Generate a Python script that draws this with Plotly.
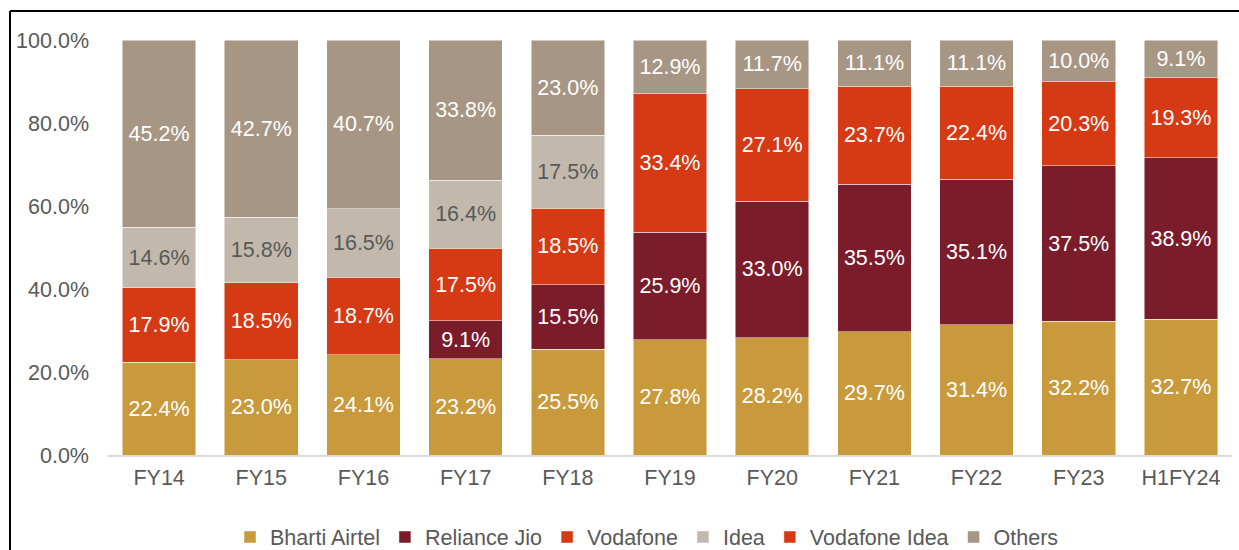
import plotly.graph_objects as go

categories = ["FY14", "FY15", "FY16", "FY17", "FY18", "FY19", "FY20", "FY21", "FY22", "FY23", "H1FY24"]
bharti_airtel = [22.4, 23.0, 24.1, 23.2, 25.5, 27.8, 28.2, 29.7, 31.4, 32.2, 32.7]
reliance_jio = [None, None, None, 9.1, 15.5, 25.9, 33.0, 35.5, 35.1, 37.5, 38.9]
vodafone = [17.9, 18.5, 18.7, 17.5, 18.5, None, None, None, None, None, None]
idea = [14.6, 15.8, 16.5, 16.4, 17.5, None, None, None, None, None, None]
vodafone_idea = [None, None, None, None, None, 33.4, 27.1, 23.7, 22.4, 20.3, 19.3]
others = [45.2, 42.7, 40.7, 33.8, 23.0, 12.9, 11.7, 11.1, 11.1, 10.0, 9.1]
y_ticks = [0, 20, 40, 60, 80, 100]
y_tick_labels = ["0.0%", "20.0%", "40.0%", "60.0%", "80.0%", "100.0%"]

series = [
    ("Bharti Airtel", bharti_airtel, "#C89A3B", "white"),
    ("Reliance Jio", reliance_jio, "#7A1C2A", "white"),
    ("Vodafone", vodafone, "#D53A15", "white"),
    ("Idea", idea, "#C2B9AC", "#595959"),
    ("Vodafone Idea", vodafone_idea, "#D53A15", "white"),
    ("Others", others, "#A69683", "white"),
]

FONT = "Liberation Sans, Arial, sans-serif"
FS = 21.5

fig = go.Figure()
for name, vals, color, tcolor in series:
    fig.add_trace(go.Bar(
        name=name, x=categories, y=vals,
        marker=dict(color=color, line=dict(color="rgba(255,255,255,0.6)", width=0.8)),
        text=[("%.1f%%" % v) if v else "" for v in vals],
        textposition="inside", insidetextanchor="middle", textangle=0,
        constraintext="none",
        textfont=dict(color=tcolor, size=FS, family=FONT),
        hoverinfo="skip",
    ))

L, R, T, B = 108, 7, 40, 95
W, H = 1239, 550
PW, PH = W - L - R, H - T - B

fig.update_layout(
    barmode="stack", barnorm="percent", bargap=0.28,
    width=W, height=H,
    margin=dict(l=L, r=R, t=T, b=B, autoexpand=False),
    plot_bgcolor="white", paper_bgcolor="white",
    font=dict(family=FONT, size=FS, color="#595959"),
    legend=dict(orientation="h", x=(647 - L) / PW, xanchor="center", y=(H - B - 537) / PH, yanchor="middle",
                font=dict(size=FS, color="#595959"), traceorder="normal",
                itemwidth=30, tracegroupgap=0),
    showlegend=True,
)
fig.update_yaxes(range=[0, 100], tickvals=y_ticks, ticktext=y_tick_labels,
                 showgrid=False, zeroline=False, showline=False, ticks="", ticklabelstandoff=18,
                 tickfont=dict(size=FS, color="#595959"))
fig.update_xaxes(showline=True, linecolor="#D9D9D9", linewidth=1.5, ticks="", showgrid=False,
                 ticklabelstandoff=2, tickfont=dict(size=FS, color="#595959"))

# outer frame (left and top edges visible)
fx = (10 - L) / PW
fy = (H - B - 11) / PH
fig.add_shape(type="line", xref="paper", yref="paper", x0=fx, x1=fx,
              y0=fy, y1=(H - B - 560) / PH, line=dict(color="black", width=2))
fig.add_shape(type="line", xref="paper", yref="paper", x0=fx, x1=(1245 - L) / PW,
              y0=fy, y1=fy, line=dict(color="black", width=2))

fig.write_html("out.html", config={"displayModeBar": False},
               post_script="document.body.style.margin='0';document.body.style.overflow='hidden';")
